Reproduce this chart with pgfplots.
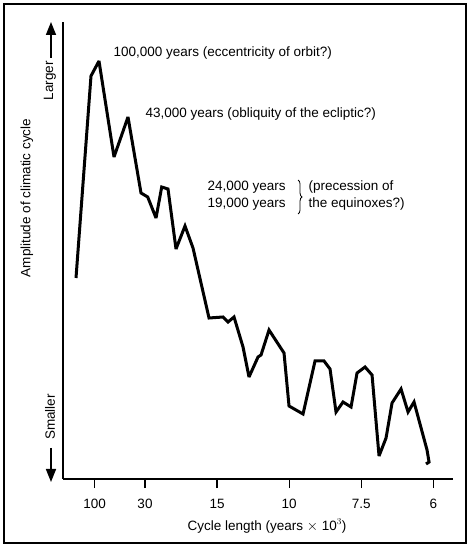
\documentclass[border=0pt]{standalone}
\usepackage{pgfplots}
\pgfplotsset{compat=1.18}
\usepackage{fontspec}
\setmainfont{Liberation Sans}
\usetikzlibrary{arrows.meta,decorations.pathreplacing}
\begin{document}
\begin{tikzpicture}[every node/.style={font=\fontsize{13.5}{16}\selectfont}]
\begin{axis}[
 scale only axis, width=390pt, height=457pt,
 xmin=-4.58, xmax=175.7, ymin=0, ymax=457,
 axis x line=bottom, axis y line=left,
 axis line style={-, line width=1.1pt},
 xtick={10,33.33,66.67,100,133.33,166.67},
 xticklabels={100,30,15,10,7.5,6},
 ytick=\empty,
 tick align=outside, major tick length=9pt,
 xtick style={line width=1.4pt, black},
 tick label style={font=\fontsize{13.5}{16}\selectfont},
 xticklabel style={yshift=-8pt},
 /pgf/number format/assume math mode=true,
 clip=false,
]
\addplot[black, line width=3pt, line join=miter, miter limit=3] table {
x y
1.43 201
8.36 403
12.06 418
19.00 322
25.47 362
31.48 286
34.58 282
38.42 261
41.05 292
43.96 290
47.66 230
51.82 253
55.52 231
62.92 161
69.39 162
71.70 157
74.48 162
78.64 132
81.41 102
85.57 122
86.96 124
90.66 149
97.59 126
99.90 73
106.38 65
111.92 118
116.09 118
118.86 110
121.63 67
124.87 77
128.57 72
131.34 106
135.04 112
138.28 104
141.51 23
144.75 41
147.52 76
151.68 90
154.92 67
157.69 77
163.70 29
164.63 17
163.24 15
};
\path (axis cs:-33.70,-69) rectangle (axis cs:183.13,479);
\draw[line width=1.5pt] (axis cs:-31.86,-64) rectangle (axis cs:181.74,475);
\node[anchor=base west] at (axis cs:17.15,422) {100,000 years (eccentricity of orbit?)};
\node[anchor=base west] at (axis cs:31.94,361) {43,000 years (obliquity of the ecliptic?)};
\node[anchor=base west] at (axis cs:60.61,288) {24,000 years};
\node[anchor=base west] at (axis cs:60.61,271) {19,000 years};
\node[anchor=base west] at (axis cs:107.3,288) {(precession of};
\node[anchor=base west] at (axis cs:107.3,271) {the equinoxes?)};
\draw[decorate, decoration={brace, amplitude=4pt}, line width=0.8pt] (axis cs:104.07,299) -- (axis cs:104.07,265);
\node[rotate=90] at (axis cs:-21.22,281) {Amplitude of climatic cycle};
\node[rotate=90] at (axis cs:-10.59,398) {Larger};
\node[rotate=90] at (axis cs:-10.59,62) {Smaller};
\draw[line width=1.6pt, -{Triangle[width=10pt,length=13pt]}] (axis cs:-10.13,421) -- (axis cs:-10.13,457);
\draw[line width=1.6pt, -{Triangle[width=10pt,length=13pt]}] (axis cs:-10.13,31) -- (axis cs:-10.13,-3);
\node[anchor=base] at (axis cs:89.73,-51) {Cycle length (years $\times$ 10$^3$)};
\end{axis}
\end{tikzpicture}
\end{document}
